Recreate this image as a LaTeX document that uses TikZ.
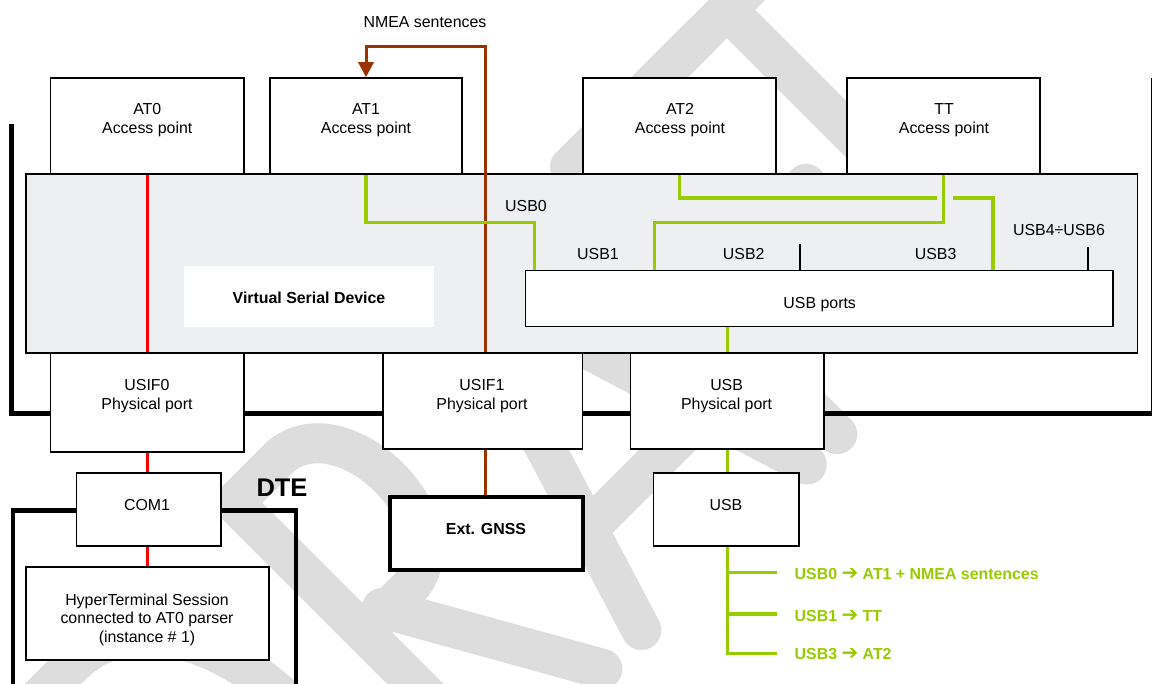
\documentclass[tikz,border=0pt]{standalone}
\usepackage{fontspec}
\setmainfont{Liberation Sans}
\newfontfamily\arrowfont{DejaVu Sans}
\usetikzlibrary{arrows.meta}
\definecolor{wm}{RGB}{221,221,221}
\definecolor{panelgray}{RGB}{238,239,241}
\definecolor{usbgreen}{RGB}{153,204,0}
\definecolor{gnssbrown}{RGB}{153,51,0}
\definecolor{serialred}{RGB}{255,0,0}
\newcommand{\maparrow}{{\arrowfont\fontsize{20}{20}\selectfont ➔}}
\begin{document}
\begin{tikzpicture}[x=1pt,y=-1pt,
  box/.style={draw=black, line width=1.5pt, fill=white, inner sep=0pt},
  thickbox/.style={box, line width=4pt},
  txt/.style={inner sep=0pt, font=\fontsize{15.9}{18.6}\selectfont, align=center},
  btxt/.style={inner sep=0pt, font=\fontsize{15.9}{18.6}\selectfont\bfseries},
  glabel/.style={inner sep=0pt, anchor=base west, text=usbgreen, font=\fontsize{15.9}{18.6}\selectfont\bfseries},
  redline/.style={draw=serialred, line width=3pt},
  brownline/.style={draw=gnssbrown, line width=3pt},
  greenline/.style={draw=usbgreen, line width=3.5pt},
  frameline/.style={draw=black, line width=5pt},
  wmstroke/.style={draw=wm, line width=40pt, line cap=round, line join=round}
]
\useasboundingbox (0,0) rectangle (1152,684);
\fill[white] (0,0) rectangle (1152,684);

% watermark "DRAFT" (letter frame rotated by 45 degrees)
\begin{scope}[rotate=45]
  \draw[wmstroke] (-640,521) -- (-420,521) .. controls (-250,521) and (-250,899) .. (-420,899) -- (-640,899) -- cycle;
  \draw[wmstroke] (-190,899) -- (-190,521) -- (-130,521) .. controls (-40,521) and (-40,705) .. (-130,705) -- (-190,705);
  \draw[wmstroke] (-160,700) -- (-47,899);
  \draw[wmstroke] (8,899) -- (125,521) -- (242,899);
  \draw[wmstroke] (42,790) -- (208,790);
  \draw[wmstroke] (285,899) -- (285,521) -- (470,521);
  \draw[wmstroke] (285,700) -- (440,700);
  \draw[wmstroke] (360,521) -- (655,521);
  \draw[wmstroke] (507,521) -- (507,899);
\end{scope}

% outer frame of the module
\coordinate (f1) at (11.8,124);
\coordinate (f2) at (11.8,413.5);
\coordinate (f3) at (1152,413.5);
\coordinate (f4) at (1151,78);
\coordinate (f5) at (1151,413.5);
\draw[frameline] (f1) -- (f2) -- (f3);
\draw[black, line width=1pt] (f4) -- (f5);

% DTE frame
\coordinate (d1) at (13,700);
\coordinate (d2) at (13,510.3);
\coordinate (d3) at (295.8,510.3);
\coordinate (d4) at (295.8,700);
\draw[black, line width=4.5pt] (d1) -- (d2) -- (d3) -- (d4);

% access points
\node[box, minimum width=193.5pt, minimum height=96pt] (AT0) at (147.25,126) {};
\node[box, minimum width=192pt, minimum height=96pt] (AT1) at (366,126) {};
\node[box, minimum width=193pt, minimum height=96pt] (AT2) at (679.5,126) {};
\node[box, minimum width=193pt, minimum height=96pt] (TT) at (943.5,126) {};

% virtual serial device panel
\node[box, fill=panelgray, minimum width=1111.5pt, minimum height=179pt] (panel) at (581.75,263.5) {};
\node[fill=white, draw=none, inner sep=0pt, minimum width=250pt, minimum height=61pt] (vsd) at (309,296.5) {};
\node[box, minimum width=587.5pt, minimum height=56pt] (ports) at (819.25,298.5) {};

% physical ports
\node[box, minimum width=193.5pt, minimum height=99pt] (USIF0) at (147.25,402.5) {};
\node[box, minimum width=199.5pt, minimum height=96pt] (USIF1) at (482.75,401) {};
\node[box, minimum width=193.5pt, minimum height=96pt] (USBphys) at (727.25,401) {};

% lower boxes
\node[box, minimum width=144.5pt, minimum height=73pt] (COM1) at (148.75,509.5) {};
\node[box, minimum width=243pt, minimum height=93pt] (hyper) at (147.5,613.5) {};
\node[thickbox, minimum width=193.5pt, minimum height=73pt] (gnss) at (486.25,533.5) {};
\node[box, minimum width=145.5pt, minimum height=73pt] (USBbox) at (726.25,509.5) {};

% texts
\node[txt, anchor=north] (tAT0) at (147.25,103.3) {AT0\\Access point};
\node[txt, anchor=north] (tAT1) at (366,103.3) {AT1\\Access point};
\node[txt, anchor=north] (tAT2) at (680,103.3) {AT2\\Access point};
\node[txt, anchor=north] (tTT) at (944,103.3) {TT\\Access point};
\node[txt, anchor=north] (tUSIF0) at (147,379.3) {USIF0\\Physical port};
\node[txt, anchor=north] (tUSIF1) at (482,379.3) {USIF1\\Physical port};
\node[txt, anchor=north] (tUSBphys) at (726.6,379.3) {USB\\Physical port};
\node[txt, anchor=north] (thyper) at (147,593.3) {HyperTerminal Session\\connected to AT0 parser\\(instance \# 1)};
\node[txt, anchor=base] (tCOM1) at (147,510.3) {COM1};
\node[txt, anchor=base] (tUSBbox) at (726,510.3) {USB};
\node[btxt, anchor=base] (tgnss) at (486,535) {Ext. GNSS};
\node[btxt, anchor=base] (tvsd) at (309,303.3) {Virtual Serial Device};
\node[txt, anchor=base] (tports) at (819.7,308.5) {USB ports};
\node[inner sep=0pt, anchor=base, font=\fontsize{25.5}{28}\selectfont\bfseries] (tDTE) at (282,496.7) {DTE};
\node[txt, anchor=base] (tnmea) at (425,27.5) {NMEA sentences};
\node[txt, anchor=base] (lusb0) at (526,211.5) {USB0};
\node[txt, anchor=base] (lusb1) at (598,259.3) {USB1};
\node[txt, anchor=base] (lusb2) at (743.7,259.3) {USB2};
\node[txt, anchor=base] (lusb3) at (935.6,259.3) {USB3};
\node[txt, anchor=base] (lusb46) at (1059,236) {USB4÷USB6};

% port attachment points and ticks
\coordinate (p0) at (534.6,270.5);
\coordinate (p1) at (654.4,270.5);
\coordinate (p3) at (993,270.5);
\coordinate (g1) at (937,198);
\coordinate (g2) at (953,198);
\coordinate (t2) at (800,244);
\coordinate (t4) at (1088,247);
\draw[black, line width=1.3pt] (t2) -- (t2 |- ports.north);
\draw[black, line width=1.3pt] (t4) -- (t4 |- ports.north);

% red serial path
\draw[redline] (AT0.south) -- (USIF0.north);
\draw[redline] (USIF0.south) -- (USIF0.south |- COM1.north);
\draw[redline] (COM1.south -| USIF0.south) -- (USIF0.south |- hyper.north);

% brown GNSS path
\coordinate (bt) at (485.3,47);
\draw[brownline, -{Triangle[length=15pt,width=15pt]}] (USIF1.north -| bt) -- (bt) -| (AT1.north);
\draw[brownline] (USIF1.south -| bt) -- (gnss.north -| bt);

% green USB paths
\draw[greenline] (AT1.south) -- ++(0,48) -| (p0);
\draw[greenline] (TT.south) -- ++(0,48) -| (p1);
\draw[greenline] (AT2.south) |- (g1);
\draw[greenline] (g2) -| (p3);
\draw[greenline] (ports.south -| USBphys.north) -- (USBphys.north);
\draw[greenline] (USBphys.south) -- (USBphys.south |- USBbox.north);

% USB mapping legend
\coordinate (b0) at (776.5,572.7);
\coordinate (b1) at (776.5,614);
\coordinate (b2) at (776.5,653.3);
\coordinate (trunk) at (USBbox.south -| USBphys.south);
\draw[greenline] (trunk) |- (b2);
\draw[greenline] (b0 -| trunk) -- (b0);
\draw[greenline] (b1 -| trunk) -- (b1);
\node[glabel] (m0) at (794.5,579.3) {USB0 \maparrow{} AT1 + NMEA sentences};
\node[glabel] (m1) at (794.5,621) {USB1 \maparrow{} TT};
\node[glabel] (m2) at (794.5,659.3) {USB3 \maparrow{} AT2};
\end{tikzpicture}
\end{document}
